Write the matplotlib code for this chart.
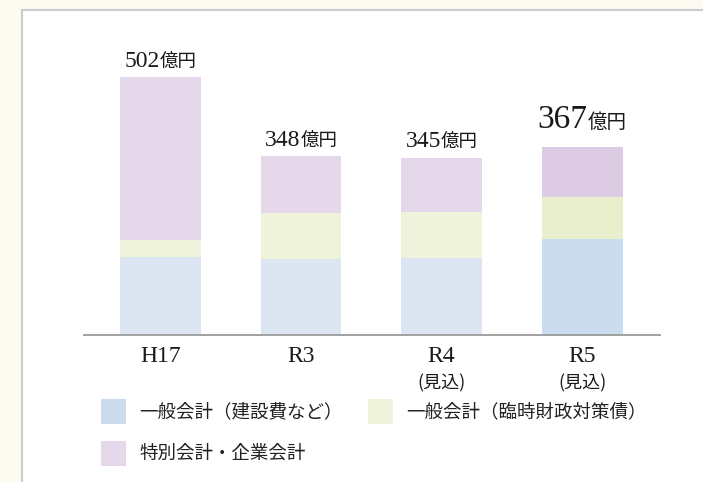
import matplotlib
matplotlib.use('Agg')
import matplotlib.pyplot as plt
from matplotlib.patches import Rectangle

# ---- data ----
categories = ['H17', 'R3', 'R4', 'R5']
sub_labels = ['', '', '(見込)', '(見込)']
general_construction = [152, 148, 151, 187]   # 一般会計(建設費など)
general_special_bonds = [33, 90, 88, 82]       # 一般会計(臨時財政対策債)
special_enterprise = [317, 110, 106, 98]       # 特別会計・企業会計
totals = [502, 348, 345, 367]
unit = '億円'
series_names = ['一般会計（建設費など）', '一般会計（臨時財政対策債）', '特別会計・企業会計']
highlight = [False, False, False, True]

# ---- style ----
SERIF = ['Liberation Serif', 'Noto Sans CJK JP']
CJK = ['Noto Sans CJK JP', 'DejaVu Sans']
c_blue = ['#dbe6f2', '#dbe6f2', '#dbe6f2', '#cbdcee']
c_green = ['#eff3dc', '#eff3dc', '#eff3dc', '#e9eecc']
c_purple = ['#e6d8eb', '#e6d8eb', '#e6d8eb', '#dccbe3']
legend_colors = ['#cbdcee', '#eff3dc', '#e6d8eb']

W, H = 703, 482
fig = plt.figure(figsize=(W / 100, H / 100), dpi=100)
fig.patch.set_facecolor('#fbfbf2')
# white panel
fig.patches.append(Rectangle((22 / W, -0.05), 1.2, 1.05 - 10 / H,
                             transform=fig.transFigure, facecolor='white',
                             edgecolor='#cccccc', lw=1.5, zorder=-5))

ax = fig.add_axes([84 / W, 1 - 335 / H, (660 - 84) / W, (335 - 20) / H])
ax.set_zorder(2)
ax.set_facecolor('none')
x = list(range(len(categories)))
bw = 0.574
ax.bar(x, general_construction, width=bw, color=c_blue, lw=0)
ax.bar(x, general_special_bonds, width=bw, bottom=general_construction, color=c_green, lw=0)
b2 = [a + b for a, b in zip(general_construction, general_special_bonds)]
ax.bar(x, special_enterprise, width=bw, bottom=b2, color=c_purple, lw=0)

ax.set_xlim(-0.544, 3.553)
ax.set_ylim(0, 614)
for s in ['top', 'left', 'right']:
    ax.spines[s].set_visible(False)
ax.spines['bottom'].set_color('#9a9a9a')
ax.spines['bottom'].set_linewidth(1.3)
ax.set_xticks(x, [''] * len(x))
ax.set_yticks([])
ax.tick_params(length=0)

# category labels
for i, cat in enumerate(categories):
    ax.annotate(cat, xy=(x[i], 0), xytext=(0, -19.5), textcoords='offset points',
                ha='center', va='baseline', fontsize=17, family=SERIF, color='#1a1a1a',
                annotation_clip=False)
    if sub_labels[i]:
        ax.annotate(sub_labels[i], xy=(x[i], 0), xytext=(0, -38.5), textcoords='offset points',
                    ha='center', va='baseline', fontsize=13, family=CJK, color='#1a1a1a',
                    annotation_clip=False)

# value labels
fig.canvas.draw()
r = fig.canvas.get_renderer()
for i, tot in enumerate(totals):
    big = highlight[i]
    num_fs = 24 if big else 17
    unit_fs = 14 if big else 13.3
    dy = 13.5 if big else 7.6
    t1 = ax.annotate(str(tot), xy=(x[i], tot), xytext=(0, dy), textcoords='offset points',
                     ha='left', va='baseline', fontsize=num_fs, family=SERIF, color='#1a1a1a')
    t2 = ax.annotate(unit, xy=(x[i], tot), xytext=(0, dy), textcoords='offset points',
                     ha='left', va='baseline', fontsize=unit_fs, family=CJK, color='#1a1a1a')
    w1 = t1.get_window_extent(r).width
    w2 = t2.get_window_extent(r).width
    start = -(w1 + w2) / 2
    t1.set_position((start * 72 / 100, dy))
    t2.set_position(((start + w1) * 72 / 100, dy))

# legend
leg_pos = [(101, 399, 139), (368, 399, 406), (101, 441, 139)]
for (px, py, tx), name, col in zip(leg_pos, series_names, legend_colors):
    fig.patches.append(Rectangle((px / W, 1 - (py + 25) / H), 25 / W, 25 / H,
                                 transform=fig.transFigure, facecolor=col, lw=0, zorder=1))
    fig.text(tx / W, 1 - (py + 13) / H, name, ha='left', va='center',
             fontsize=13.3, family=CJK, color='#222222')

fig.savefig('out.png', dpi=100, facecolor=fig.get_facecolor())
